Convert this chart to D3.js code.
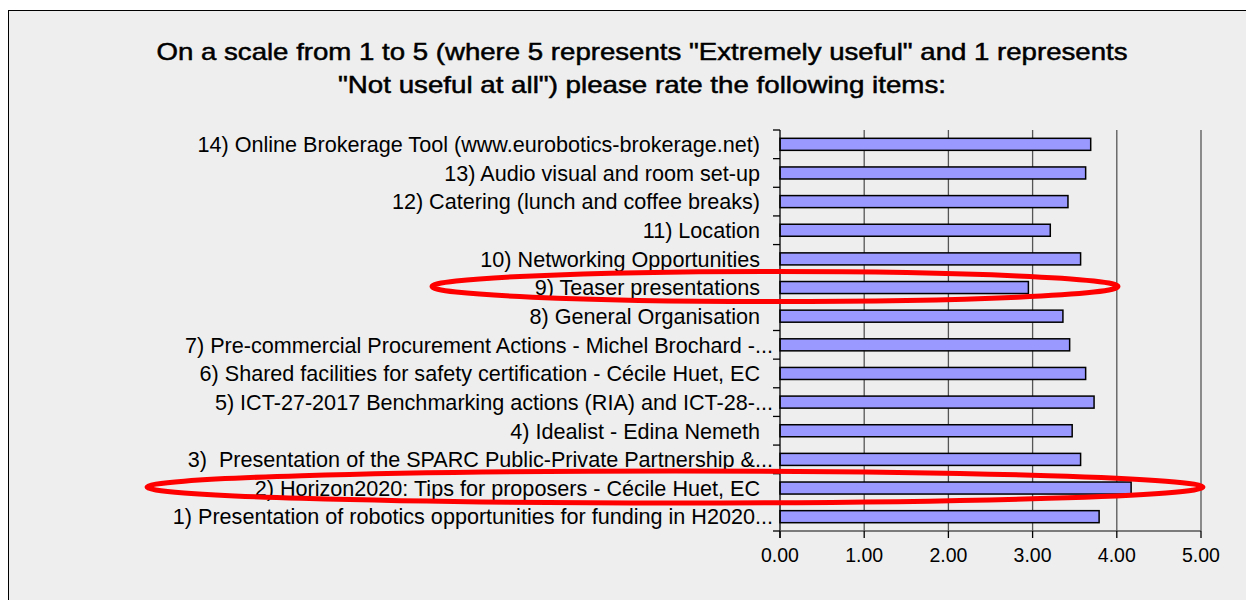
<!doctype html>
<html>
<head>
<meta charset="utf-8">
<script src="https://d3js.org/d3.v7.min.js"></script>
<style>
  body { margin: 0; background: #fff; }
  text { font-family: "Liberation Sans", Arial, sans-serif; fill: #000; }
</style>
</head>
<body>
<svg width="1246" height="600"></svg>
<script>
// items, bottom to top as in the chart
var items = [
  "1) Presentation of robotics opportunities for funding in H2020...",
  "2) Horizon2020: Tips for proposers - Cécile Huet, EC",
  "3)  Presentation of the SPARC Public-Private Partnership &...",
  "4) Idealist - Edina Nemeth",
  "5) ICT-27-2017 Benchmarking actions (RIA) and ICT-28-...",
  "6) Shared facilities for safety certification - Cécile Huet, EC",
  "7) Pre-commercial Procurement Actions - Michel Brochard -...",
  "8) General Organisation",
  "9) Teaser presentations",
  "10) Networking Opportunities",
  "11) Location",
  "12) Catering (lunch and coffee breaks)",
  "13) Audio visual and room set-up",
  "14) Online Brokerage Tool (www.eurobotics-brokerage.net)"
];
var scores = [3.79, 4.17, 3.57, 3.47, 3.73, 3.63, 3.44, 3.36, 2.95, 3.57, 3.21, 3.42, 3.63, 3.69];
var ticks = [0, 1, 2, 3, 4, 5];
var highlighted = ["9) Teaser presentations", "2) Horizon2020: Tips for proposers - Cécile Huet, EC"];
var titleLines = [
  "On a scale from 1 to 5 (where 5 represents \"Extremely useful\" and 1 represents",
  "\"Not useful at all\") please rate the following items:"
];

var svg = d3.select("svg");

// chart area frame
svg.append("rect")
  .attr("x", 8.5).attr("y", 10.5)
  .attr("width", 1250).attr("height", 600)
  .attr("fill", "#eeeeee").attr("stroke", "#000").attr("stroke-width", 1);

var titleWidths = [971, 608];
svg.append("g").selectAll("text")
  .data(titleLines).enter()
  .append("text")
    .attr("x", 642).attr("y", (d, i) => 60 + i * 33)
    .attr("text-anchor", "middle")
    .attr("textLength", (d, i) => titleWidths[i])
    .attr("lengthAdjust", "spacingAndGlyphs")
    .style("font-size", "24px")
    .style("stroke", "#000").style("stroke-width", 0.5)
    .text(d => d);

var plotL = 780, plotR = 1201, plotT = 130, plotB = 531;

var x = d3.scaleLinear().domain([0, 5]).range([plotL, plotR]);
var y = d3.scaleBand().domain(items.slice().reverse()).range([plotT, plotB]).paddingInner(0.58).paddingOuter(0.29);
var step = y.step();

// gridlines
svg.append("g").selectAll("line")
  .data(ticks.slice(1)).enter()
  .append("line")
    .attr("x1", d => x(d)).attr("x2", d => x(d))
    .attr("y1", plotT).attr("y2", plotB)
    .attr("stroke", "#555").attr("stroke-width", 1.3);

// bars
svg.append("g").selectAll("rect")
  .data(items).enter()
  .append("rect")
    .attr("x", x(0))
    .attr("y", d => y(d))
    .attr("width", (d, i) => x(scores[i]) - x(0))
    .attr("height", y.bandwidth())
    .attr("fill", "#9999ff")
    .attr("stroke", "#000")
    .attr("stroke-width", 1.5);

// left axis with ticks between categories
var yAxis = svg.append("g");
yAxis.append("line")
  .attr("x1", plotL).attr("x2", plotL).attr("y1", plotT).attr("y2", plotB + 7)
  .attr("stroke", "#000").attr("stroke-width", 1.3);
yAxis.selectAll("line.tk")
  .data(d3.range(items.length + 1)).enter()
  .append("line").attr("class", "tk")
    .attr("x1", plotL - 7).attr("x2", plotL)
    .attr("y1", i => plotT + i * step).attr("y2", i => plotT + i * step)
    .attr("stroke", "#000").attr("stroke-width", 1.3);
yAxis.selectAll("text")
  .data(items).enter()
  .append("text")
    // truncated labels run up to the tick marks
    .attr("x", d => d.endsWith("...") ? 773 : 760)
    .attr("y", d => y(d) + y.bandwidth() / 2)
    .attr("dy", "0.36em")
    .attr("text-anchor", "end")
    .style("white-space", "pre")
    .style("font-size", "21.6px")
    .text(d => d);

// bottom axis
var xAxis = svg.append("g");
xAxis.append("line")
  .attr("x1", plotL).attr("x2", plotR).attr("y1", plotB).attr("y2", plotB)
  .attr("stroke", "#555").attr("stroke-width", 1.3);
xAxis.selectAll("line.tk")
  .data(ticks).enter()
  .append("line").attr("class", "tk")
    .attr("x1", d => x(d)).attr("x2", d => x(d))
    .attr("y1", plotB).attr("y2", plotB + 7)
    .attr("stroke", "#000").attr("stroke-width", 1.3);
xAxis.selectAll("text")
  .data(ticks).enter()
  .append("text")
    .attr("x", d => x(d)).attr("y", 562)
    .attr("text-anchor", "middle")
    .style("font-size", "19.5px")
    .text(d => d3.format(".2f")(d));

// red highlight ellipses around two items
var rings = [
  { item: highlighted[0], x0: 432, x1: 1118, ry: 15 },
  { item: highlighted[1], x0: 147, x1: 1203, ry: 16 }
];
svg.append("g").selectAll("ellipse")
  .data(rings).enter()
  .append("ellipse")
    .attr("cx", d => (d.x0 + d.x1) / 2)
    .attr("cy", d => y(d.item) + y.bandwidth() / 2 - 1)
    .attr("rx", d => (d.x1 - d.x0) / 2)
    .attr("ry", d => d.ry)
    .attr("fill", "none")
    .attr("stroke", "#ff0000")
    .attr("stroke-width", 5);
</script>
</body>
</html>
